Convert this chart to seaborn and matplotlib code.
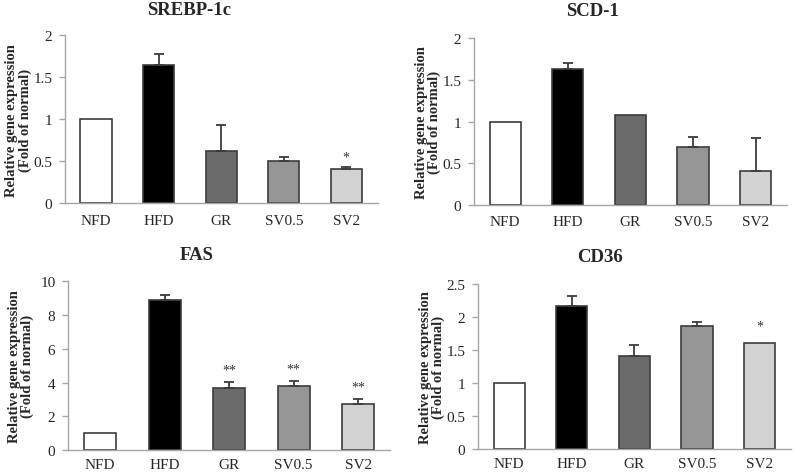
import numpy as np
import pandas as pd
import matplotlib
matplotlib.use("Agg")
import matplotlib.pyplot as plt
import seaborn as sns

# ---- data ----
groups = ["NFD", "HFD", "GR", "SV0.5", "SV2"]
bar_colors = ["#ffffff", "#000000", "#6b6b6b", "#969696", "#d2d2d2"]

srebp_mean = [1.00, 1.64, 0.62, 0.50, 0.41]
srebp_err = [0.00, 0.14, 0.31, 0.05, 0.02]
srebp_sig = ["", "", "", "", "*"]

scd_mean = [1.00, 1.63, 1.08, 0.69, 0.41]
scd_err = [0.00, 0.07, 0.00, 0.13, 0.39]
scd_sig = ["", "", "", "", ""]

fas_mean = [1.00, 8.87, 3.67, 3.79, 2.76]
fas_err = [0.00, 0.34, 0.40, 0.30, 0.30]
fas_sig = ["", "", "**", "**", "**"]

cd36_mean = [1.00, 2.17, 1.41, 1.86, 1.61]
cd36_err = [0.00, 0.14, 0.16, 0.07, 0.00]
cd36_sig = ["", "", "", "", "*"]

titles = ["SREBP-1c", "SCD-1", "FAS", "CD36"]
y_max = [2.0, 2.0, 10.0, 2.5]
y_step = [0.5, 0.5, 2.0, 0.5]

sns.set_style("white")
plt.rcParams["font.family"] = ["Liberation Serif", "DejaVu Serif"]

fig = plt.figure(figsize=(8.0, 4.77), dpi=100)

axes_rects = [
    [0.081, 0.572, 0.391, 0.352],
    [0.5925, 0.568, 0.391, 0.350],
    [0.085, 0.054, 0.403, 0.354],
    [0.5975, 0.056, 0.391, 0.347],
]
title_pos = [(0.236, 0.979), (0.741, 0.975), (0.246, 0.465), (0.750, 0.461)]
star_gap = [0.06, 0.06, 0.07, 0.1]
x_pad = [4, 4, 2.0, 2.0]

datasets = [
    (srebp_mean, srebp_err, srebp_sig),
    (scd_mean, scd_err, scd_sig),
    (fas_mean, fas_err, fas_sig),
    (cd36_mean, cd36_err, cd36_sig),
]

spine_col = "#a6a6a6"
edge_col = "#3c3c3c"

for k, (means, errs, sigs) in enumerate(datasets):
    ax = fig.add_axes(axes_rects[k])
    df = pd.DataFrame({"group": groups, "value": means})
    sns.barplot(data=df, x="group", y="value", hue="group", palette=bar_colors,
                legend=False, width=0.5, edgecolor=edge_col, linewidth=1.2,
                ax=ax, errorbar=None)
    m = np.array(means)
    e = np.array(errs)
    keep = e > 0
    xs = np.arange(len(groups))[keep]
    ax.errorbar(xs, m[keep], yerr=[np.zeros(keep.sum()), e[keep]], fmt="none",
                ecolor=edge_col, elinewidth=1.3, capsize=3.5, capthick=1.3,
                zorder=1)
    for i, s in enumerate(sigs):
        if s:
            ax.text(i, means[i] + errs[i] + star_gap[k] * y_max[k], s,
                    ha="center", va="center", fontsize=10, color="#333333")
    ax.set_xlim(-0.5, 4.5)
    ax.set_ylim(0, y_max[k])
    ticks = np.arange(0, y_max[k] + 1e-9, y_step[k])
    ax.set_yticks(ticks)
    ax.set_yticklabels(["{:g}".format(t) for t in ticks])
    ax.set_xlabel("")
    ax.set_ylabel("Relative gene expression\n(Fold of normal)", fontsize=10.5,
                  fontweight="bold", linespacing=1.0)
    ax.yaxis.set_label_coords(-0.105, 0.5)
    for side in ["top", "right"]:
        ax.spines[side].set_visible(False)
    for side in ["left", "bottom"]:
        ax.spines[side].set_color(spine_col)
        ax.spines[side].set_linewidth(1.0)
    ax.tick_params(axis="y", left=True, direction="out", length=4, width=1,
                   color=spine_col, labelsize=11, pad=5)
    ax.tick_params(axis="x", bottom=False, labelsize=11, pad=x_pad[k])
    fig.text(title_pos[k][0], title_pos[k][1], titles[k], ha="center",
             va="center", fontsize=13.5, fontweight="bold")

fig.savefig("out.png", dpi=100)
